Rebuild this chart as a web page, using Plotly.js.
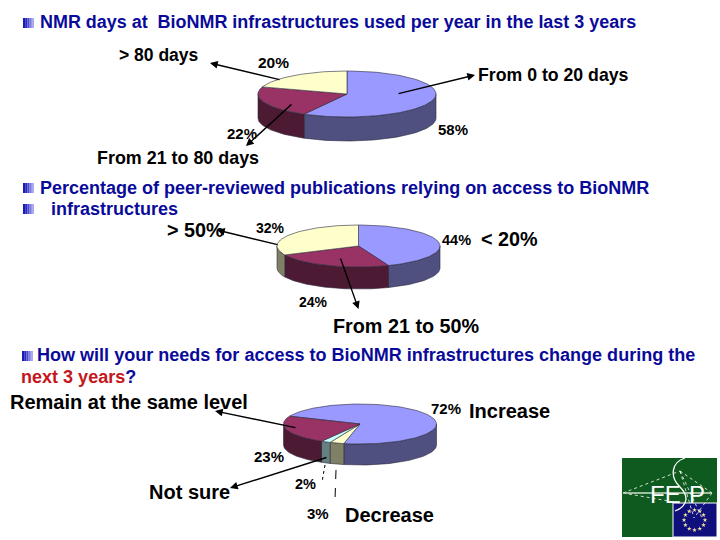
<!DOCTYPE html>
<html><head><meta charset="utf-8">
<script src="https://cdn.plot.ly/plotly-3.0.1.min.js"></script>
<style>html,body{margin:0;padding:0;background:#fff}</style></head>
<body><div id="chart" style="width:720px;height:540px"></div>
<script>
// ---- data ----
const daysLabels = ['From 0 to 20 days', 'From 21 to 80 days', '> 80 days'];
const daysValues = [58, 22, 20];
const pubsLabels = ['< 20%', 'From 21 to 50%', '> 50%'];
const pubsValues = [44, 24, 32];
const needsLabels = ['Increase', 'Decrease', 'Not sure', 'Remain at the same level'];
const needsValues = [72, 3, 2, 23];

const daysColors = [['#9999ff','#4f4f80'],['#993366','#4d1a33'],['#ffffcc','#808066']];
const pubsColors = daysColors;
const needsColors = [['#9999ff','#4f4f80'],['#ffffcc','#808066'],['#ccffff','#668080'],['#993366','#4d1a33']];

const traces = [];
function pie3d(values, labels, colors, g) {
  const total = values.reduce((a, b) => a + b, 0);
  const pt = (deg, dy) => {
    const r = deg * Math.PI / 180;
    return [g.cx + g.rx * Math.sin(r), g.cy - g.ry * Math.cos(r) + (dy || 0)];
  };
  const arc = (a, b, dy) => {
    const out = [], n = Math.max(2, Math.ceil(Math.abs(b - a) / 2));
    for (let i = 0; i <= n; i++) out.push(pt(a + (b - a) * i / n, dy));
    return out;
  };
  const add = (poly, fill, name) => traces.push({
    type: 'scatter', mode: 'lines', fill: 'toself', fillcolor: fill, name,
    x: poly.map(p => p[0]), y: poly.map(p => p[1]),
    line: {color: '#2a2a3a', width: 0.6}, hoverinfo: 'name', showlegend: false
  });
  let a = g.start;
  const spans = values.map(v => { const s = [a, a + v / total * 360]; a = s[1]; return s; });
  // side walls: the front half of the rim only (90..270 degrees, and one turn on)
  spans.forEach((s, i) => {
    [0, 360].forEach(off => {
      const hi = Math.min(s[1], 270 + off), l = Math.max(s[0], 90 + off);
      if (hi > l) add(arc(l, hi, 0).concat(arc(hi, l, g.depth)).concat([pt(l, 0)]), colors[i][1], labels[i]);
    });
  });
  spans.forEach((s, i) => {
    add([[g.cx, g.cy]].concat(arc(s[0], s[1], 0)).concat([[g.cx, g.cy]]), colors[i][0], labels[i]);
  });
}
pie3d(daysValues, daysLabels, daysColors, {cx: 347, cy: 94, rx: 89, ry: 23, depth: 24, start: 0});
pie3d(pubsValues, pubsLabels, pubsColors, {cx: 358.5, cy: 246, rx: 81.5, ry: 21, depth: 22, start: 0});
pie3d(needsValues, needsLabels, needsColors, {cx: 360, cy: 424, rx: 76.5, ry: 20, depth: 21, start: -67});

const FONT = 'Liberation Sans, Arial, sans-serif';
const NAVY = '#0a0a9a';
function txt(text, x, y, size, opts) {
  opts = opts || {};
  const anchor = opts.anchor || 'left';
  return {text, x: anchor === 'left' ? x - 2 : x, y, xref: 'x', yref: 'y', showarrow: false, xanchor: anchor, yanchor: 'middle',
    font: {family: FONT, size, color: opts.color || '#000', weight: opts.weight === undefined ? 700 : opts.weight}};
}
function arrow(x0, y0, x1, y1) {
  return {x: x1, y: y1, ax: x0, ay: y0, xref: 'x', yref: 'y', axref: 'x', ayref: 'y', text: '',
    showarrow: true, arrowhead: 2, arrowsize: 1.1, arrowwidth: 1.4, arrowcolor: '#000'};
}
const annotations = [
  txt('NMR days at  BioNMR infrastructures used per year in the last 3 years', 40, 22, 17.95, {color: NAVY}),
  txt('> 80 days', 119, 55, 17.5),
  txt('From 0 to 20 days', 478, 75, 17.7),
  txt('From 21 to 80 days', 97, 158, 17.9),
  txt('20%', 273, 62, 15.5, {anchor: 'center'}),
  txt('58%', 453, 129, 15, {anchor: 'center'}),
  txt('22%', 242, 133, 15, {anchor: 'center'}),

  txt('Percentage of peer-reviewed publications relying on access to BioNMR', 40, 188, 18, {color: NAVY}),
  txt('infrastructures', 51, 209, 18, {color: NAVY}),
  txt('> 50%', 167, 230, 19.8),
  txt('< 20%', 481, 239, 19.8),
  txt('From 21 to 50%', 333, 326, 19.8),
  txt('32%', 270, 228, 14, {anchor: 'center'}),
  txt('44%', 456, 240, 14.5, {anchor: 'center'}),
  txt('24%', 313, 302, 14, {anchor: 'center'}),

  txt('How will your needs for access to BioNMR infrastructures change during the', 37, 355, 18.05, {color: NAVY}),
  txt('<span style="color:#c4161c">next 3 years</span>?', 21, 377, 18.05, {color: NAVY}),
  txt('Remain at the same level', 10, 402, 20),
  txt('Increase', 469, 411, 20),
  txt('Not sure', 149, 492, 20),
  txt('Decrease', 345, 515, 20),
  txt('72%', 446, 408, 15, {anchor: 'center'}),
  txt('23%', 269, 456, 15, {anchor: 'center'}),
  txt('2%', 305, 484, 14.5, {anchor: 'center'}),
  txt('3%', 318, 513, 15, {anchor: 'center'}),

  arrow(397, 94, 475, 75), arrow(281, 80, 210, 63), arrow(293, 103, 246, 146),
  arrow(279, 245, 217, 230), arrow(340, 257, 358.5, 309),
  arrow(297, 428, 215, 411), arrow(328, 457, 230, 488),

  // logo lettering
  txt('FE', 650, 494, 24, {color: '#fff', weight: 400}),
  txt('P', 689, 494, 24, {color: '#fff', weight: 400})
];

const rect = (x0, y0, x1, y1, fill, line) => ({type: 'rect', xref: 'x', yref: 'y', x0, y0, x1, y1,
  fillcolor: fill, line: line || {width: 0}, layer: 'below'});
function bullet(x, y) {
  const c = ['#1a1ab4', '#2a2ac0', '#4a4acc', '#7a7ae0', '#aaaaf0'];
  return c.map((col, i) => rect(x + i * 2.2, y, x + (i + 1) * 2.2, y + 10, col));
}
const seg = (x0, y0, x1, y1, line) => ({type: 'line', xref: 'x', yref: 'y', x0, y0, x1, y1, line});
const whiteDash = {color: '#fff', width: 0.8, dash: 'dot'};
const shapes = [
  ...bullet(23, 18), ...bullet(23, 183), ...bullet(23, 204), ...bullet(22, 351),
  seg(325, 465, 322, 482, {color: '#000', width: 1, dash: 'dot'}),
  seg(336, 470, 335, 500, {color: '#000', width: 1, dash: 'dash'}),
  // logo
  rect(622, 458, 717, 537, '#0f5a1e'),
  rect(673, 503, 717, 537, '#10107c', {color: '#fff', width: 1}),
  seg(623, 493, 680, 471, whiteDash), seg(623, 493, 680, 503, whiteDash),
  seg(680, 471, 712, 493, whiteDash), seg(680, 471, 694, 518, whiteDash),
  seg(680, 471, 702, 518, whiteDash), seg(712, 493, 694, 518, whiteDash),
  seg(625, 493, 712, 493, {color: '#cfe0cf', width: 1.4}),
  {type: 'path', xref: 'x', yref: 'y', path: 'M 685 458 C 672 462, 669 476, 680 487 C 689 496, 688 506, 675 511',
    line: {color: '#fff', width: 1.3}, fillcolor: 'rgba(0,0,0,0)'},
];
// EU flag stars
const starCount = 12;
const starX = [], starY = [];
for (let i = 0; i < starCount; i++) {
  starX.push(694.5 + 10.5 * Math.sin(i * 2 * Math.PI / starCount));
  starY.push(520 - 10 * Math.cos(i * 2 * Math.PI / starCount));
}
traces.push({type: 'scatter', mode: 'markers', x: starX, y: starY, hoverinfo: 'skip', showlegend: false,
  marker: {symbol: 'star', size: 3.5, color: '#f4e6a0'}});

Plotly.newPlot('chart', traces, {
  width: 720, height: 540, margin: {l: 0, r: 0, t: 0, b: 0},
  paper_bgcolor: '#fff', plot_bgcolor: '#fff', showlegend: false,
  xaxis: {range: [0, 720], visible: false, fixedrange: true},
  yaxis: {range: [540, 0], visible: false, fixedrange: true},
  annotations, shapes
}, {displayModeBar: false, staticPlot: true});
</script></body></html>
